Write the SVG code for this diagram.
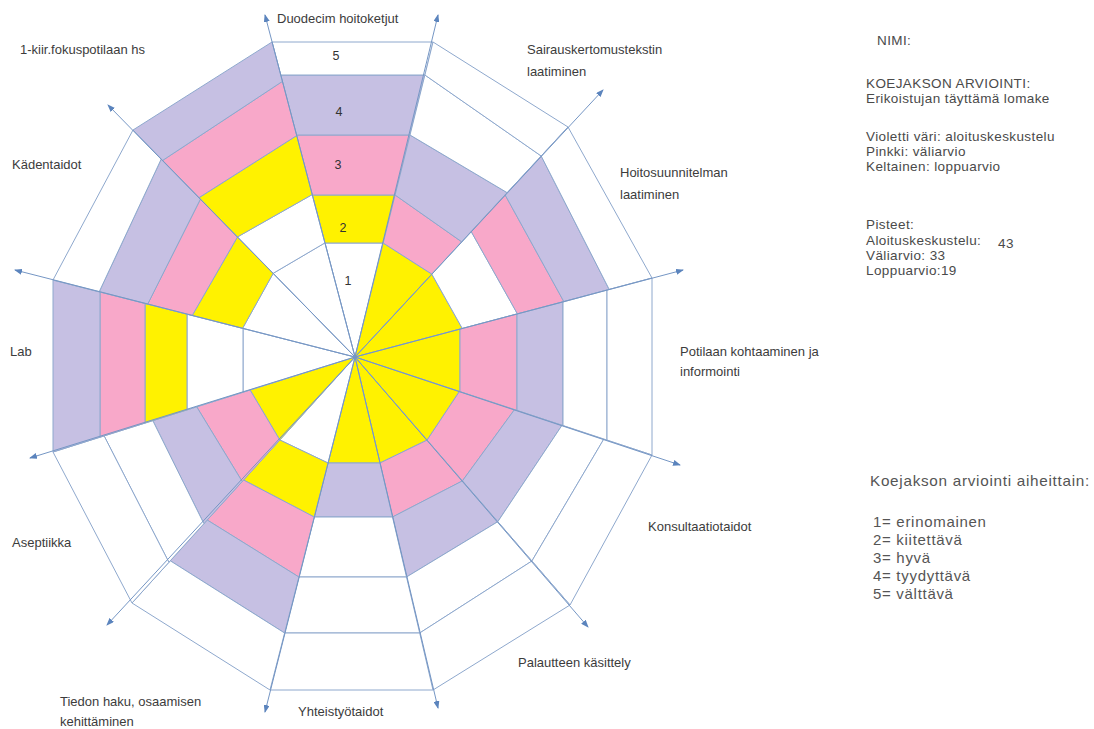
<svg xmlns="http://www.w3.org/2000/svg" width="1094" height="729" viewBox="0 0 1094 729">
<style>
  polygon{stroke:#8ea8cd;stroke-width:1;stroke-linejoin:round}
  .w{fill:#ffffff}
  .y{fill:#fff200}
  .p{fill:#f8a8c9}
  .v{fill:#c6c0e3}
  .lbl{font-family:"Liberation Sans",Arial,sans-serif;font-size:13px;fill:#3c3c3c}
  .num{font-family:"Liberation Sans",Arial,sans-serif;font-size:12.5px;fill:#333;text-anchor:middle}
  .info{font-family:"Liberation Sans",Arial,sans-serif;font-size:13.5px;letter-spacing:0.4px;fill:#4a4a4a}
  .key{font-family:"Liberation Sans",Arial,sans-serif;font-size:15px;letter-spacing:0.7px;fill:#555}
  .axis{stroke:#7596c4;stroke-width:1;fill:none;marker-end:url(#arr)}
</style>
<defs>
  <marker id="arr" markerWidth="8" markerHeight="6" refX="7" refY="3" orient="auto" markerUnits="userSpaceOnUse">
    <path d="M0,0 L8,3 L0,6 Z" fill="#5b84bd"/>
  </marker>
</defs>
<rect width="1094" height="729" fill="#ffffff"/>

<g id="sector-duodecim">
  <polygon class="w" points="355,357 325,243 383.2,243"/>
  <polygon class="y" points="325,243 312.3,195 395.1,195 383.2,243"/>
  <polygon class="p" points="312.3,195 296.5,135 410,135 395.1,195"/>
  <polygon class="v" points="296.5,135 280.7,75 424.9,75 410,135"/>
  <polygon class="w" points="280.7,75 272,42 433,42 424.9,75"/>
  <text class="num" x="336" y="60">5</text>
  <text class="num" x="339" y="116">4</text>
  <text class="num" x="338" y="169">3</text>
  <text class="num" x="343" y="232">2</text>
  <text class="num" x="348" y="285">1</text>
  <text class="lbl" x="277" y="23">Duodecim hoitoketjut</text>
</g>

<g id="sector-sairauskertomus">
  <polygon class="y" points="355,357 383.2,243 431.8,274.1"/>
  <polygon class="p" points="383.2,243 395.1,195 461.7,241.8 431.8,274.1"/>
  <polygon class="v" points="395.1,195 410,135 507.2,192.7 461.7,241.8"/>
  <polygon class="w" points="410,135 424.9,75 541.2,156 507.2,192.7"/>
  <polygon class="w" points="424.9,75 433,42 568,127 541.2,156"/>
  <text class="lbl" x="527" y="54">Sairauskertomustekstin</text>
  <text class="lbl" x="527" y="76">laatiminen</text>
</g>

<g id="sector-hoitosuunnitelma">
  <polygon class="y" points="355,357 431.8,274.1 462.3,328.5"/>
  <polygon class="w" points="431.8,274.1 471.2,231.5 517.4,313.8 462.3,328.5"/>
  <polygon class="p" points="471.2,231.5 505.1,194.9 563.8,301.5 517.4,313.8"/>
  <polygon class="v" points="505.1,194.9 541.2,156 609.2,289.4 563.8,301.5"/>
  <polygon class="w" points="541.2,156 568,127 652,278 609.2,289.4"/>
  <text class="lbl" x="620" y="177">Hoitosuunnitelman</text>
  <text class="lbl" x="620" y="199">laatiminen</text>
</g>

<g id="sector-potilaan-kohtaaminen">
  <polygon class="y" points="355,357 460,329 460,391.6"/>
  <polygon class="p" points="460,329 517,314 517,410.5 460,391.6"/>
  <polygon class="v" points="517,314 563,302 563,425.6 517,410.5"/>
  <polygon class="w" points="563,302 607,290 607,440.2 563,425.6"/>
  <polygon class="w" points="607,290 652,278 652,455 607,440.2"/>
  <text class="lbl" x="680" y="356">Potilaan kohtaaminen ja</text>
  <text class="lbl" x="680" y="376">informointi</text>
</g>

<g id="sector-konsultaatiotaidot">
  <polygon class="y" points="355,357 459.4,391.5 427.1,440.1"/>
  <polygon class="p" points="459.4,391.5 514.5,409.6 462.4,480.9 427.1,440.1"/>
  <polygon class="v" points="514.5,409.6 562,425.3 497.8,521.7 462.4,480.9"/>
  <polygon class="w" points="562,425.3 603.8,439.1 531.9,561 497.8,521.7"/>
  <polygon class="w" points="603.8,439.1 652,455 570,605 531.9,561"/>
  <text class="lbl" x="648" y="531">Konsultaatiotaidot</text>
</g>

<g id="sector-palautteen-kasittely">
  <polygon class="y" points="355,357 427.1,440.1 380,463"/>
  <polygon class="p" points="427.1,440.1 462.4,480.9 392.5,517 380,463"/>
  <polygon class="v" points="462.4,480.9 497.8,521.7 406.5,577 392.5,517"/>
  <polygon class="w" points="497.8,521.7 531.9,561 419.7,633 406.5,577"/>
  <polygon class="w" points="531.9,561 570,605 433,690 419.7,633"/>
  <text class="lbl" x="518" y="667">Palautteen käsittely</text>
</g>

<g id="sector-yhteistyotaidot">
  <polygon class="y" points="355,357 380,463 328,463"/>
  <polygon class="v" points="380,463 392.5,517 314.2,517 328,463"/>
  <polygon class="w" points="392.5,517 406.5,577 298.9,577 314.2,517"/>
  <polygon class="w" points="406.5,577 419.7,633 284.6,633 298.9,577"/>
  <polygon class="w" points="419.7,633 433,690 270,690 284.6,633"/>
  <text class="lbl" x="298" y="716">Yhteistyötaidot</text>
</g>

<g id="sector-tiedon-haku">
  <polygon class="w" points="355,357 328,463 279.8,440"/>
  <polygon class="y" points="328,463 314.2,517 243.5,480 279.8,440"/>
  <polygon class="p" points="314.2,517 298.9,577 207.2,520 243.5,480"/>
  <polygon class="v" points="298.9,577 284.6,633 170.3,560.8 207.2,520"/>
  <polygon class="w" points="284.6,633 270,690 132,603 170.3,560.8"/>
  <text class="lbl" x="60" y="706">Tiedon haku, osaamisen</text>
  <text class="lbl" x="60" y="726">kehittäminen</text>
</g>

<g id="sector-aseptiikka">
  <polygon class="y" points="355,357 279.8,440 250.1,390"/>
  <polygon class="p" points="279.8,440 242.2,481.5 196.7,406.8 250.1,390"/>
  <polygon class="v" points="242.2,481.5 203.9,523.7 152.8,420.6 196.7,406.8"/>
  <polygon class="w" points="203.9,523.7 168.9,562.3 104.1,435.9 152.8,420.6"/>
  <polygon class="w" points="168.9,562.3 132,603 53,452 104.1,435.9"/>
  <text class="lbl" x="12" y="547">Aseptiikka</text>
</g>

<g id="sector-lab">
  <polygon class="w" points="355,357 243,392.2 243,328.5"/>
  <polygon class="w" points="243,392.2 187,409.9 187,314.2 243,328.5"/>
  <polygon class="y" points="187,409.9 145,423.1 145,303.5 187,314.2"/>
  <polygon class="p" points="145,423.1 100,437.2 100,292 145,303.5"/>
  <polygon class="v" points="100,437.2 53,452 53,280 100,292"/>
  <text class="lbl" x="10" y="356">Lab</text>
</g>

<g id="sector-kadentaidot">
  <polygon class="w" points="355,357 242.6,328.3 273.2,273.3"/>
  <polygon class="y" points="242.6,328.3 192.2,315.5 237.5,236.9 273.2,273.3"/>
  <polygon class="p" points="192.2,315.5 147.7,304.1 200.5,199 237.5,236.9"/>
  <polygon class="v" points="147.7,304.1 99.2,291.8 161.3,158.9 200.5,199"/>
  <polygon class="w" points="99.2,291.8 53,280 133,130 161.3,158.9"/>
  <text class="lbl" x="12" y="169">Kädentaidot</text>
</g>

<g id="sector-fokuspotilas">
  <polygon class="w" points="355,357 273.2,273.3 324.9,242.9"/>
  <polygon class="w" points="273.2,273.3 237.5,236.9 312.2,194.6 324.9,242.9"/>
  <polygon class="y" points="237.5,236.9 199.1,197.6 296.7,135.6 312.2,194.6"/>
  <polygon class="p" points="199.1,197.6 162.7,160.4 282.4,81.4 296.7,135.6"/>
  <polygon class="v" points="162.7,160.4 133,130 272,42 282.4,81.4"/>
  <text class="lbl" x="20" y="54">1-kiir.fokuspotilaan hs</text>
</g>

<g id="axes">
  <line class="axis" x1="355" y1="357" x2="265" y2="15"/>
  <line class="axis" x1="355" y1="357" x2="438" y2="15"/>
  <line class="axis" x1="355" y1="357" x2="603" y2="90"/>
  <line class="axis" x1="355" y1="357" x2="683" y2="270"/>
  <line class="axis" x1="355" y1="357" x2="680" y2="465"/>
  <line class="axis" x1="355" y1="357" x2="588" y2="627"/>
  <line class="axis" x1="355" y1="357" x2="438" y2="708"/>
  <line class="axis" x1="355" y1="357" x2="265" y2="712"/>
  <line class="axis" x1="355" y1="357" x2="107" y2="625"/>
  <line class="axis" x1="355" y1="357" x2="30" y2="458"/>
  <line class="axis" x1="355" y1="357" x2="15" y2="270"/>
  <line class="axis" x1="355" y1="357" x2="108" y2="105"/>
</g>

<g id="info">
  <text class="info" x="877" y="45">NIMI:</text>
  <text class="info" x="866" y="88">KOEJAKSON ARVIOINTI:</text>
  <text class="info" x="866" y="103">Erikoistujan täyttämä lomake</text>
  <text class="info" x="866" y="141">Violetti väri:  aloituskeskustelu</text>
  <text class="info" x="866" y="156">Pinkki: väliarvio</text>
  <text class="info" x="866" y="171">Keltainen: loppuarvio</text>
  <text class="info" x="866" y="229">Pisteet:</text>
  <text class="info" x="866" y="245">Aloituskeskustelu:</text>
  <text class="info" x="998" y="248">43</text>
  <text class="info" x="866" y="260">Väliarvio: 33</text>
  <text class="info" x="866" y="275">Loppuarvio:19</text>
</g>

<g id="key">
  <text class="key" x="870" y="486" textLength="220" lengthAdjust="spacingAndGlyphs">Koejakson arviointi aiheittain:</text>
  <text class="key" x="873" y="527">1= erinomainen</text>
  <text class="key" x="873" y="545">2= kiitettävä</text>
  <text class="key" x="873" y="563">3= hyvä</text>
  <text class="key" x="873" y="581">4= tyydyttävä</text>
  <text class="key" x="873" y="599">5= välttävä</text>
</g>
</svg>
